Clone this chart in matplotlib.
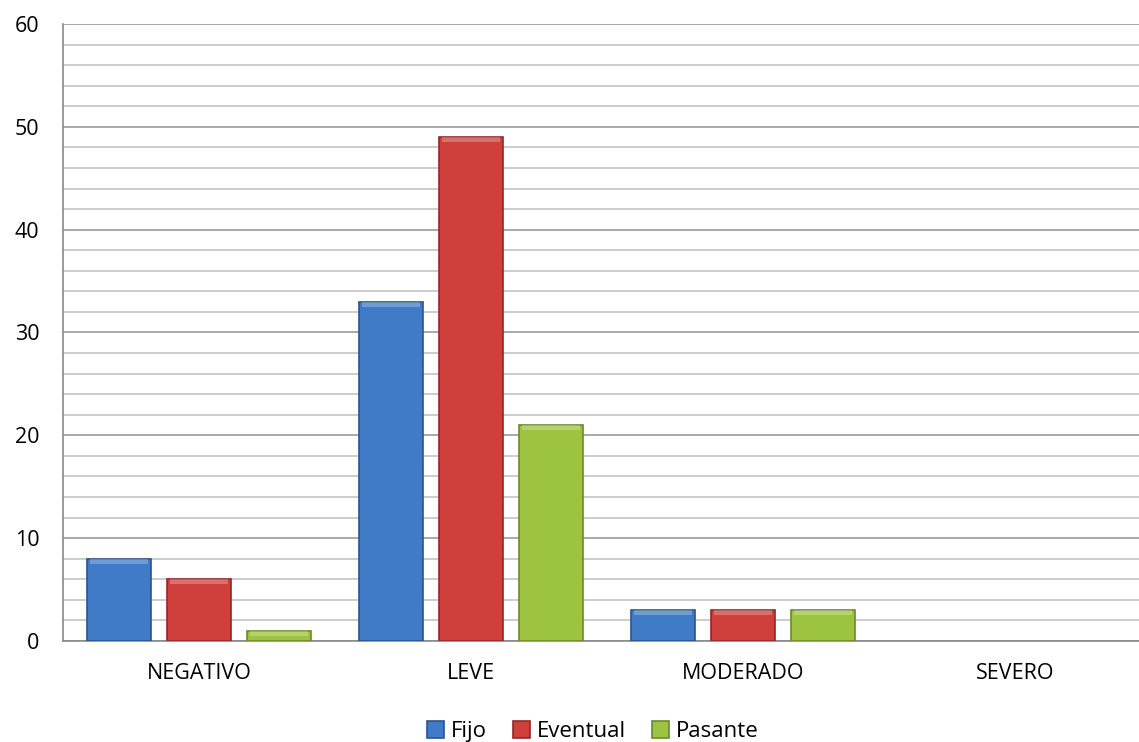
import matplotlib.pyplot as plt
import numpy as np

# categories and series values
categories = ["NEGATIVO", "LEVE", "MODERADO", "SEVERO"]
fijo = [8, 33, 3, 0]
eventual = [6, 49, 3, 0]
pasante = [1, 21, 3, 0]

series_names = ["Fijo", "Eventual", "Pasante"]
colors = ["#3f7bc6", "#cf3f3c", "#9dc440"]
edges = ["#2a568c", "#8e2a28", "#6b8a2a"]

plt.rcParams['font.family'] = ['Open Sans', 'DejaVu Sans']

fig = plt.figure(figsize=(11.39, 7.42), dpi=100)
# plot area runs slightly past the right edge of the image, as in the original
ax = fig.add_axes([0.0553, 0.1361, 0.9552, 0.8316])

x = np.arange(len(categories))
width = 0.235
step = 0.294

for i, (vals, name) in enumerate(zip([fijo, eventual, pasante], series_names)):
    pos = x + (i - 1) * step
    # zero values leave no mark in the original
    h = [v if v > 0 else np.nan for v in vals]
    bars = ax.bar(pos, h, width, color=colors[i], edgecolor=edges[i],
                  linewidth=1.2, label=name, zorder=3)
    # light strip on top of each bar to hint at the bevel
    for b, v in zip(bars, vals):
        if v > 0:
            t = min(0.5, v * 0.5)
            ax.bar(b.get_x() + b.get_width() / 2, t, width * 0.9,
                   bottom=v - t, color="white", alpha=0.25,
                   linewidth=0, zorder=4)

ax.set_xlim(-0.5, 3.5)
ax.set_ylim(0, 60)
ax.set_yticks(range(0, 61, 10))
ax.set_yticks(range(0, 61, 2), minor=True)
ax.set_xticks(x)
ax.set_xticklabels(categories)
ax.tick_params(axis='both', which='both', length=0, labelsize=15.5)
ax.tick_params(axis='x', pad=16)
ax.tick_params(axis='y', pad=17)

ax.grid(axis='y', which='major', color="#9a9a9a", linewidth=1.2, zorder=0)
ax.grid(axis='y', which='minor', color="#c4c4c4", linewidth=1.2, zorder=0)

for s in ["top", "right"]:
    ax.spines[s].set_visible(False)
ax.spines["left"].set_color("#8a8a8a")
ax.spines["bottom"].set_color("#8a8a8a")
ax.spines["left"].set_linewidth(1.2)
ax.spines["bottom"].set_linewidth(1.2)

ax.legend(loc="center", bbox_to_anchor=(0.487, -0.147), ncol=3, frameon=False,
          fontsize=16, handlelength=0.75, handleheight=0.75, handletextpad=0.3,
          columnspacing=1.2, borderaxespad=0)

fig.savefig("out.png", dpi=100)
